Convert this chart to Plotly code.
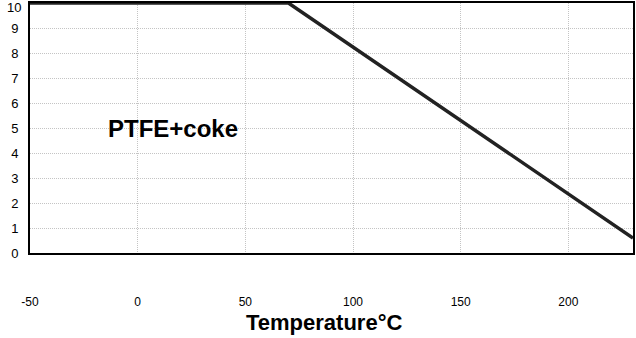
import plotly.graph_objects as go

temperature = [-50, 70, 230]
value = [10, 10, 0.6]
x_ticks = [-50, 0, 50, 100, 150, 200]
x_tick_labels = ["-50", "0", "50", "100", "150", "200"]
y_ticks = [0, 1, 2, 3, 4, 5, 6, 7, 8, 9, 10]
label = "PTFE+coke"
x_title = "Temperature°C"

fig = go.Figure()
fig.add_trace(go.Scatter(x=temperature, y=value, mode="lines",
                         line=dict(color="#222222", width=3.5), showlegend=False))

font = "Liberation Sans, Arial, sans-serif"
fig.update_layout(
    width=636, height=338,
    margin=dict(l=30, r=3, t=3, b=85, autoexpand=False),
    paper_bgcolor="white", plot_bgcolor="white",
    font=dict(family=font, size=12, color="black"),
    xaxis=dict(range=[-50, 230], tickvals=x_ticks, ticktext=x_tick_labels, showgrid=True,
               gridcolor="#c4c4c4", griddash="1px,1px", gridwidth=1,
               showline=True, linecolor="black", linewidth=2, mirror=True,
               ticks="", ticklabelstandoff=37, zeroline=False, automargin=False,
               tickfont=dict(size=12)),
    yaxis=dict(range=[0, 10], tickvals=y_ticks, showgrid=True,
               gridcolor="#c4c4c4", griddash="1px,1px", gridwidth=1,
               showline=True, linecolor="black", linewidth=2, mirror=True,
               ticks="", ticklabelstandoff=7, zeroline=False, automargin=False,
               tickfont=dict(size=13)),
    annotations=[
        dict(x=0, y=y_ticks[-1], xref="paper", yref="y", text=str(y_ticks[-1]),
             showarrow=False, xanchor="right", yanchor="middle", xshift=-7, yshift=-4,
             font=dict(size=13, color="black", family=font)),
        dict(x=-14.5, y=5, xref="x", yref="y", text="<b>" + label + "</b>",
             showarrow=False, xanchor="left", yanchor="middle",
             font=dict(size=24, color="black", family=font)),
        dict(x=0.487, y=-0.278, xref="paper", yref="paper", text="<b>" + x_title + "</b>",
             showarrow=False, xanchor="center", yanchor="middle",
             font=dict(size=22, color="black", family=font)),
    ],
)
fig.write_html("out.html", config={"displayModeBar": False},
               post_script="document.body.style.margin='0';document.body.style.overflow='hidden';")
